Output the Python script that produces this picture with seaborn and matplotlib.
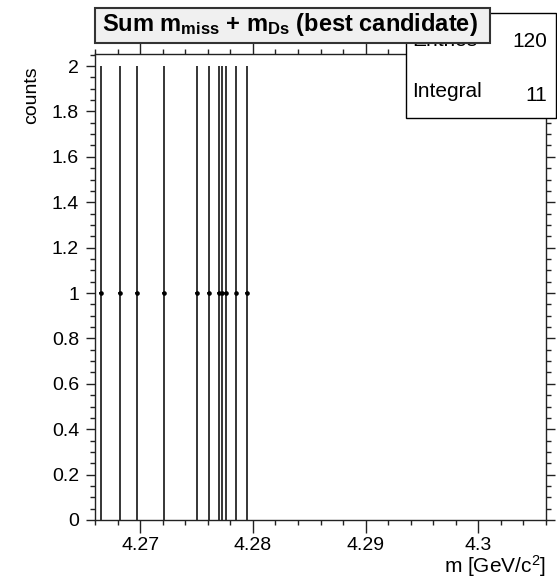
import numpy as np
import matplotlib
matplotlib.use("Agg")
import matplotlib.pyplot as plt
import seaborn as sns
import pandas as pd
from matplotlib.ticker import MultipleLocator, FormatStrFormatter
from matplotlib.patches import Rectangle

# histogram content (filled bins only)
bin_centers = [4.26656, 4.26824, 4.26972, 4.27211, 4.27501, 4.27614,
               4.27703, 4.27729, 4.27761, 4.27854, 4.27948]
counts = [1, 1, 1, 1, 1, 1, 1, 1, 1, 1, 1]
x_range = (4.266, 4.306)
n_bins = 120
entries = 120
integral = 11

title_text = r"Sum m$_{\mathbf{miss}}$ + m$_{\mathbf{Ds}}$ (best candidate)"
x_label = r"m [GeV/c$^{2}$]"
y_label = "counts"

sns.set_style("ticks")
plt.rcParams["font.family"] = ["Liberation Sans", "DejaVu Sans"]
plt.rcParams["mathtext.fontset"] = "custom"
plt.rcParams["mathtext.rm"] = "Liberation Sans"
plt.rcParams["mathtext.bf"] = "Liberation Sans:bold"
plt.rcParams["mathtext.it"] = "Liberation Sans:italic"
plt.rcParams["text.color"] = "black"
plt.rcParams["xtick.labelcolor"] = "black"
plt.rcParams["ytick.labelcolor"] = "black"

W, H = 557, 582
fig = plt.figure(figsize=(W / 100, H / 100), dpi=100)

def fx(px):
    return px / W

def fy(py):
    return 1 - py / H

ax = fig.add_axes([fx(95), fy(520), fx(546) - fx(95), fy(54) - fy(520)])

df = pd.DataFrame({"m": bin_centers, "counts": counts})
df["err"] = np.sqrt(df["counts"])
half_w = (x_range[1] - x_range[0]) / n_bins / 2

ax.errorbar(df["m"], df["counts"], yerr=df["err"], xerr=half_w,
            fmt="none", ecolor="black", elinewidth=1.1, capsize=0)
sns.scatterplot(data=df, x="m", y="counts", ax=ax, color="black",
                s=11, marker="o", edgecolor="black", linewidth=0, zorder=3)

ax.set_xlim(*x_range)
ax.set_ylim(0, 2.053)
ax.set_xlabel("")
ax.set_ylabel("")

ax.xaxis.set_major_locator(MultipleLocator(0.01))
ax.xaxis.set_minor_locator(MultipleLocator(0.002))
ax.yaxis.set_major_locator(MultipleLocator(0.2))
ax.yaxis.set_minor_locator(MultipleLocator(0.05))
ax.xaxis.set_major_formatter(FormatStrFormatter("%g"))
ax.yaxis.set_major_formatter(FormatStrFormatter("%g"))

for s in ax.spines.values():
    s.set_visible(True)
    s.set_linewidth(1)
    s.set_color("#222222")

ax.tick_params(which="both", direction="out", top=True, right=True,
               color="#222222", width=1, labelsize=14, labelcolor="black")
ax.tick_params(axis="x", which="major", length=9, pad=3)
ax.tick_params(axis="x", which="minor", length=3.6)
ax.tick_params(axis="y", which="major", length=6.5, pad=5)
ax.tick_params(axis="y", which="minor", length=3.6)

# axis titles, ROOT style
fig.text(fx(546), fy(566), x_label, ha="right", va="center", fontsize=15)
fig.text(fx(32), fy(66), y_label, ha="center", va="top", rotation=90,
         fontsize=14)

# stats box
fig.patches.append(Rectangle((fx(405.7), fy(118)), fx(556) - fx(405.7),
                             fy(12.7) - fy(118), transform=fig.transFigure,
                             facecolor="white", edgecolor="black",
                             linewidth=1, zorder=5))
fig.text(fx(412), fy(46), "Entries", ha="left", va="baseline",
         fontsize=15, zorder=6)
fig.text(fx(547), fy(47), str(entries), ha="right", va="baseline",
         fontsize=15, zorder=6)
fig.text(fx(412), fy(97), "Integral", ha="left", va="baseline",
         fontsize=15, zorder=6)
fig.text(fx(547), fy(101), str(integral), ha="right", va="baseline",
         fontsize=15, zorder=6)

# title box
fig.patches.append(Rectangle((fx(95), fy(43)), fx(490) - fx(95),
                             fy(8) - fy(43), transform=fig.transFigure,
                             facecolor="#f0f0f0", edgecolor="#333333",
                             linewidth=1.5, zorder=7))
fig.text(fx(290), fy(25), title_text, ha="center", va="center",
         fontsize=17, fontweight="bold", zorder=8)

fig.savefig("out.png", dpi=100)
